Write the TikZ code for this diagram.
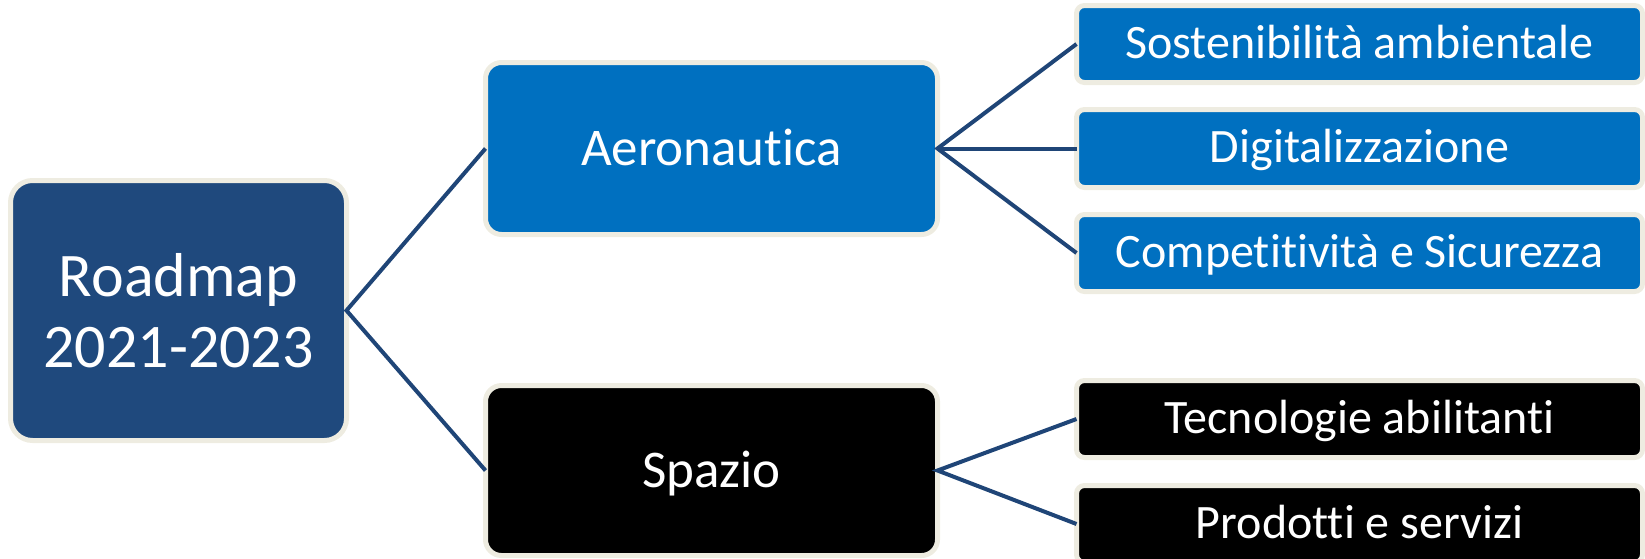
\documentclass[tikz,border=0pt]{standalone}
\usepackage{fontspec}
\setmainfont{Carlito}[Ligatures=CommonOff]
\definecolor{rootblue}{HTML}{1F497D}
\definecolor{aeroblue}{HTML}{0070C0}
\definecolor{beige}{HTML}{EEECE1}
\definecolor{linkblue}{HTML}{1F4577}
\begin{document}
\begin{tikzpicture}[x=1pt,y=-1pt,
  box/.style={draw=beige, line width=5pt, outer sep=0pt, inner sep=0pt, text=white, anchor=center},
  rootbox/.style={box, fill=rootblue, rounded corners=22pt, minimum width=336pt, minimum height=260pt, align=center, font=\fontsize{62}{71}\selectfont},
  midbox/.style={box, rounded corners=16pt, minimum width=452pt, text height=33pt, text depth=0pt, font=\fontsize{53}{60}\selectfont},
  leafbox/.style={box, rounded corners=8pt, minimum width=566pt, minimum height=77pt, text height=28pt, text depth=0pt, font=\fontsize{48}{56}\selectfont},
  link/.style={draw=linkblue, line width=4pt}]
\useasboundingbox (0,0) rectangle (1645,558);
\node[rootbox] (root) at (178.5,310.5) {Roadmap\\2021-2023};
\node[midbox, fill=aeroblue, minimum height=172pt] (aero) at (711.5,148.5) {Aeronautica};
\node[midbox, fill=black, minimum height=170pt] (spazio) at (711.5,470.5) {Spazio};
\node[leafbox, fill=aeroblue] (sost) at (1359.5,44) {Sostenibilità ambientale};
\node[leafbox, fill=aeroblue, minimum height=78pt] (digi) at (1359.5,148.5) {Digitalizzazione};
\node[leafbox, fill=aeroblue] (comp) at (1359.5,253) {Competitività e Sicurezza};
\node[leafbox, fill=black] (tecn) at (1359.5,419) {Tecnologie abilitanti};
\node[leafbox, fill=black] (prod) at (1359.5,524) {Prodotti e servizi};
\draw[link] (aero.west) -- (root.east) -- (spazio.west);
\draw[link] (sost.west) -- (aero.east) -- (comp.west);
\draw[link] (aero.east) -- (digi.west);
\draw[link] (tecn.west) -- (spazio.east) -- (prod.west);
\end{tikzpicture}
\end{document}
